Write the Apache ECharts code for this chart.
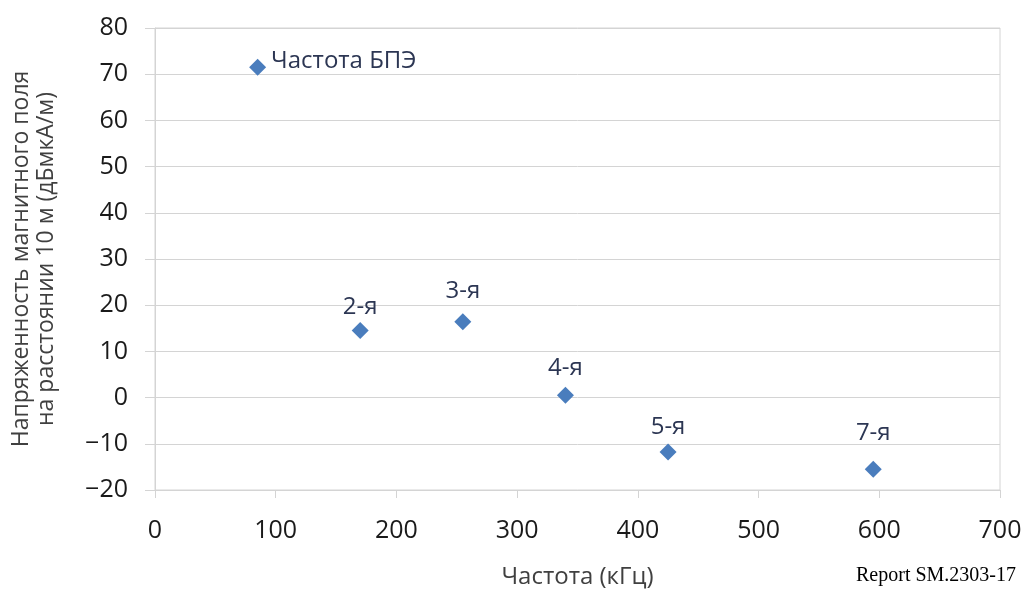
<!DOCTYPE html>
<html>
<head>
<meta charset="utf-8">
<script src="https://cdn.jsdelivr.net/npm/echarts@6/dist/echarts.min.js"></script>
<style>
  html, body { margin: 0; padding: 0; background: #fff; }
  #main { width: 1026px; height: 594px; }
</style>
</head>
<body>
<div id="main"></div>
<script>
const freqs = [85, 170, 255, 340, 425, 595]
const levels = [71.5, 14.5, 16.4, 0.5, -11.8, -15.5]
const pointNames = ['Частота БПЭ', '2-я', '3-я', '4-я', '5-я', '7-я']
const xTicks = [0, 100, 200, 300, 400, 500, 600, 700]
const yTicks = [-20, -10, 0, 10, 20, 30, 40, 50, 60, 70, 80]

const chart = echarts.init(document.getElementById('main'))
const font = 'Open Sans'

// label distance above each marker (first one sits to the right)
const labelGap = [5, 3, 10, 7, 4, 16]

const points = freqs.map((f, i) => ({
  value: [f, levels[i]],
  name: pointNames[i],
  label: i === 0
    ? { position: 'right', distance: labelGap[0], offset: [0, -6] }
    : { position: 'top', distance: labelGap[i] }
}))

const minus = v => String(v).replace('-', '\u2212')

const option = {
  backgroundColor: '#fff',
  animation: false,
  title: {
    text: 'Report SM.2303-17',
    right: 5,
    bottom: 3,
    textStyle: {
      fontFamily: 'Liberation Serif',
      fontWeight: 'normal',
      fontSize: 20,
      color: '#000'
    }
  },
  grid: {
    left: 155,
    right: 26,
    top: 28,
    bottom: 102,
    show: true,
    borderColor: '#d4d4d4',
    borderWidth: 1
  },
  xAxis: {
    type: 'value',
    min: xTicks[0],
    max: xTicks[xTicks.length - 1],
    interval: 100,
    name: 'Частота (кГц)',
    nameLocation: 'middle',
    nameGap: 75,
    nameTextStyle: { fontFamily: font, fontSize: 24, color: '#404040' },
    axisLine: { show: true, onZero: false, lineStyle: { color: '#d4d4d4' } },
    axisTick: { show: true, length: 8, lineStyle: { color: '#d4d4d4' } },
    splitLine: { show: false },
    axisLabel: {
      margin: 28,
      fontFamily: font,
      fontSize: 25,
      color: '#1a1a1a'
    }
  },
  yAxis: {
    type: 'value',
    min: yTicks[0],
    max: yTicks[yTicks.length - 1],
    interval: 10,
    name: 'Напряженность магнитного поля\nна расстоянии 10 м (дБмкА/м)',
    nameLocation: 'middle',
    nameRotate: 90,
    nameGap: 96,
    nameTextStyle: { fontFamily: font, fontSize: 23, color: '#404040', lineHeight: 25 },
    axisLine: { show: true, onZero: false, lineStyle: { color: '#d4d4d4' } },
    axisTick: { show: true, length: 10, lineStyle: { color: '#d4d4d4' } },
    splitLine: { show: true, lineStyle: { color: '#d4d4d4' } },
    axisLabel: {
      margin: 27,
      fontFamily: font,
      fontSize: 25,
      color: '#1a1a1a',
      formatter: minus
    }
  },
  series: [{
    type: 'scatter',
    symbol: 'diamond',
    symbolSize: 17,
    itemStyle: { color: '#4a7dbd', opacity: 1 },
    label: {
      show: true,
      formatter: '{b}',
      fontFamily: font,
      fontSize: 24,
      color: '#2c3653'
    },
    data: points
  }]
}

chart.setOption(option)
</script>
</body>
</html>
